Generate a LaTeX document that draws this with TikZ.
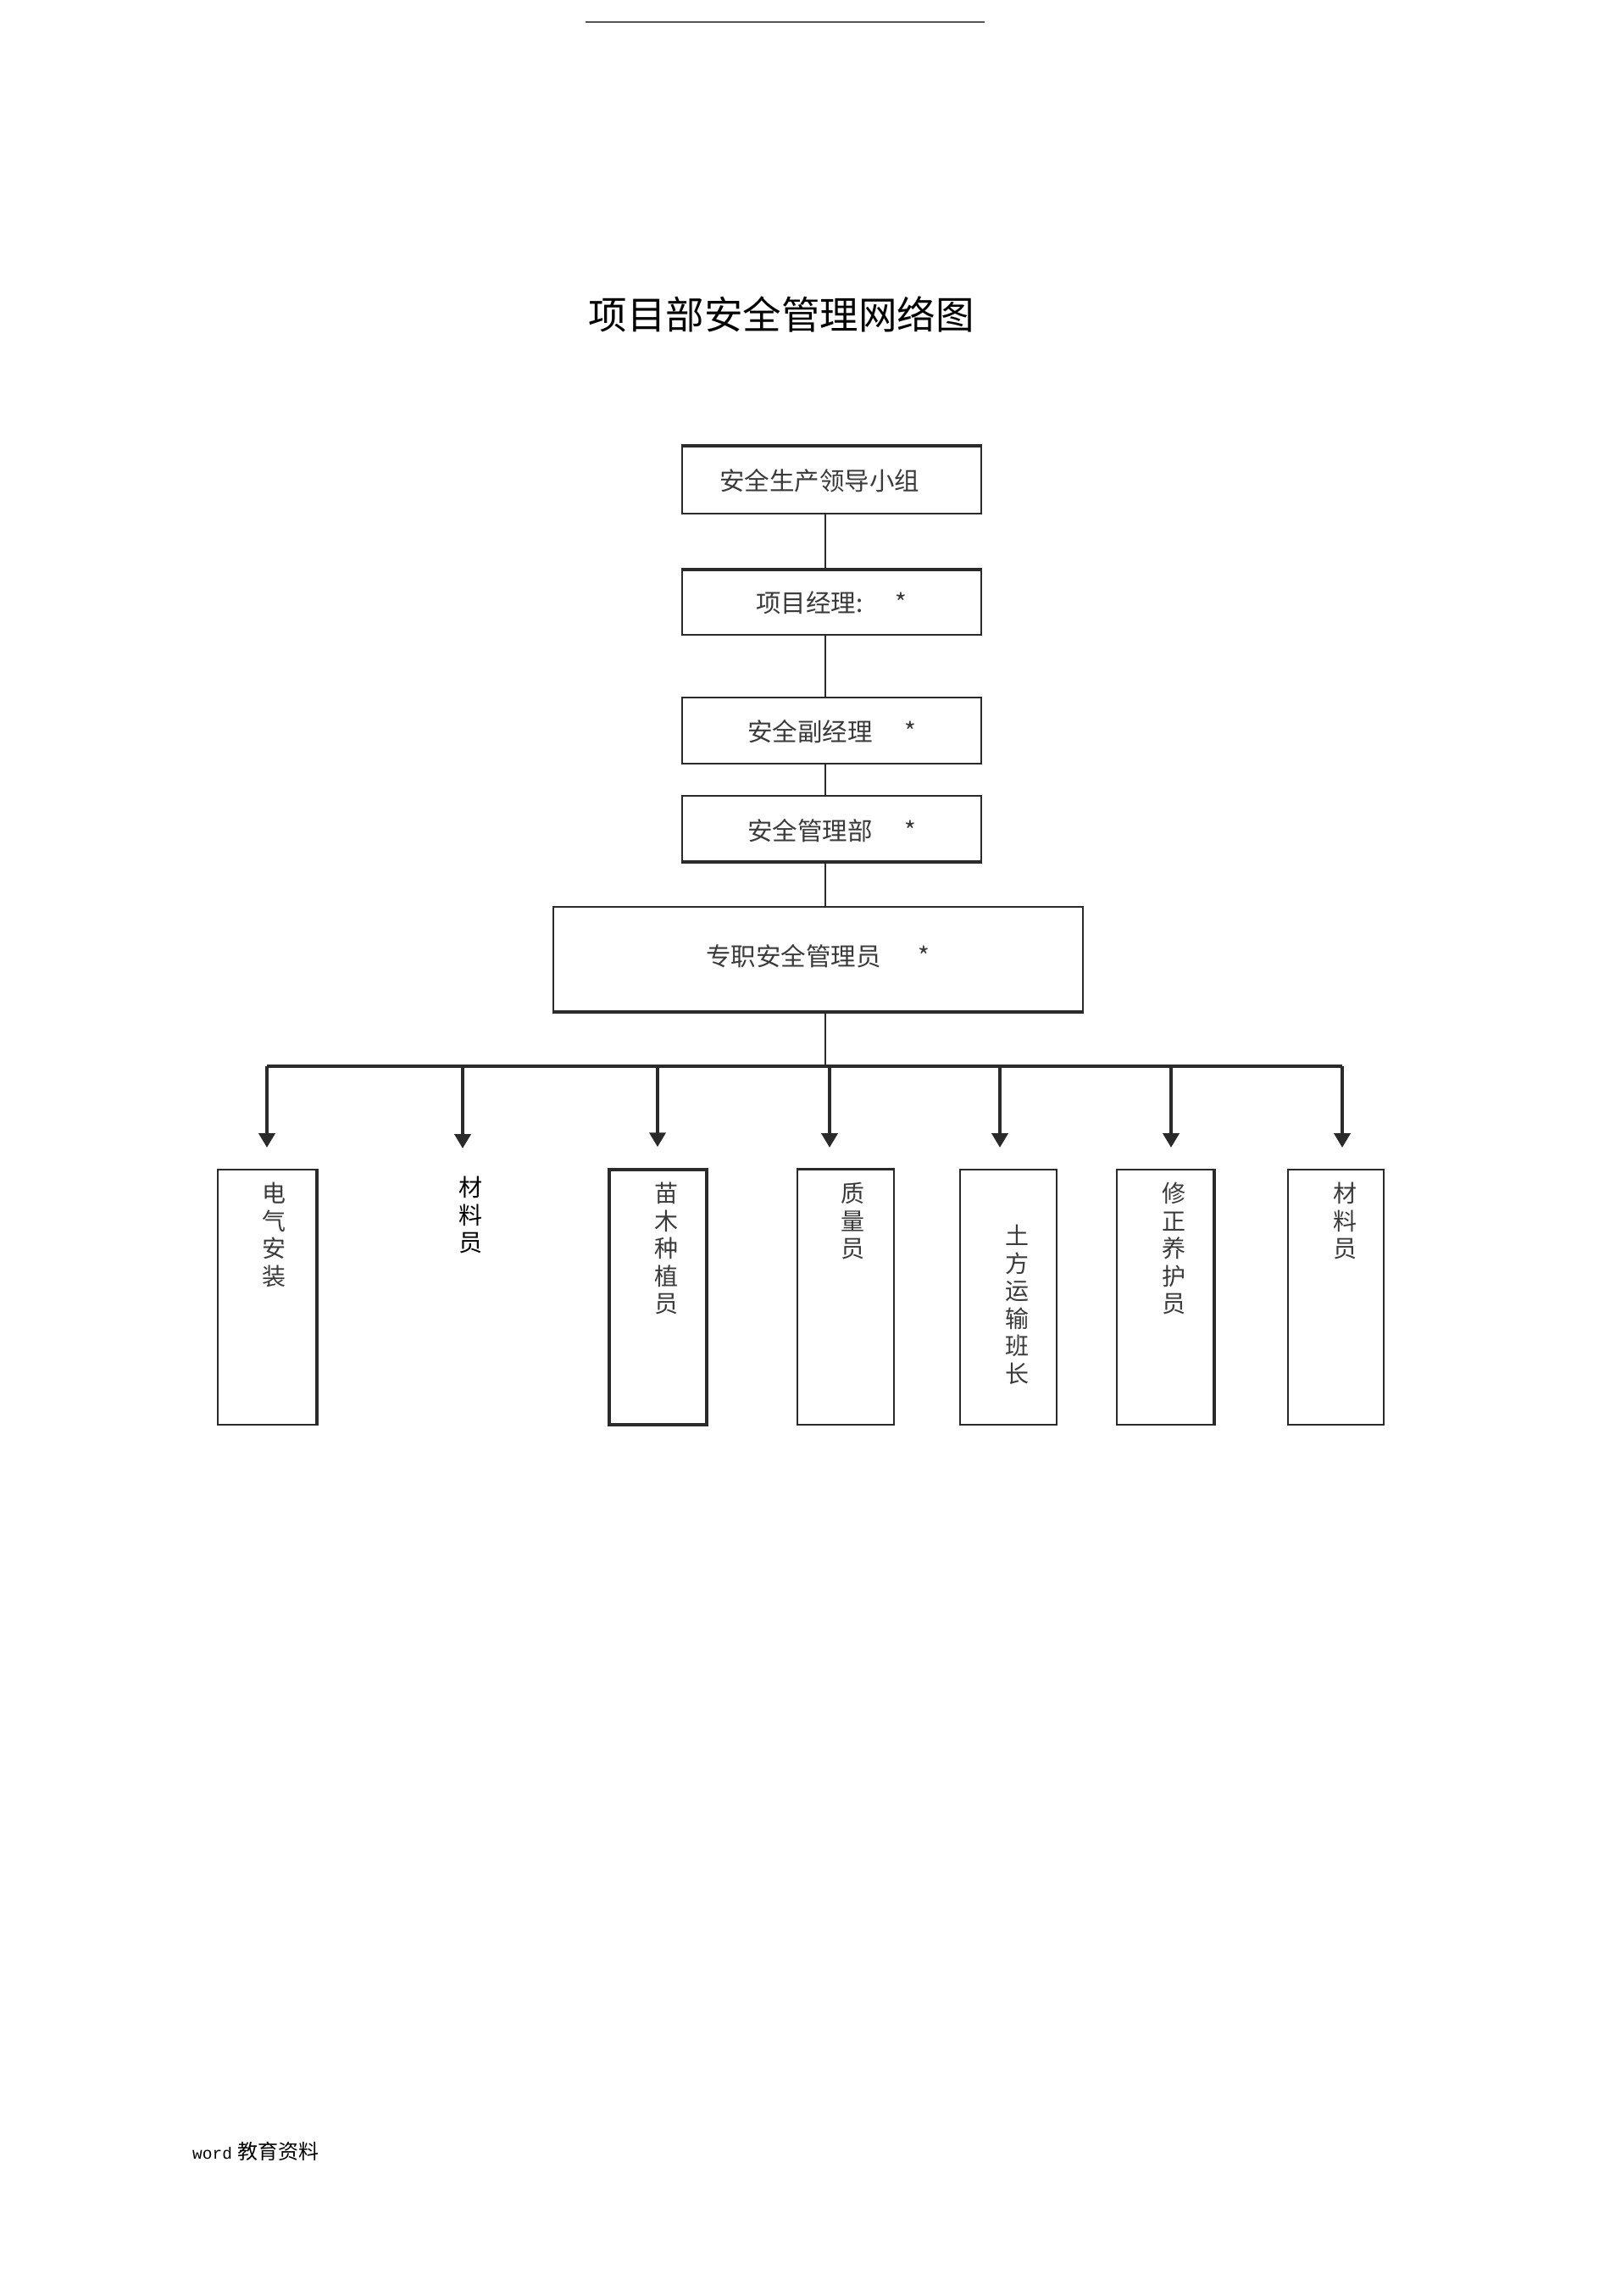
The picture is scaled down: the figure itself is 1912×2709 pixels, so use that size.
\documentclass[tikz,border=0pt]{standalone}
\usepackage{fontspec}
\setmainfont{Noto Sans CJK SC}
\newfontfamily\monofont{Liberation Mono}
\usetikzlibrary{arrows.meta}
\definecolor{linec}{HTML}{2A2A2A}
\definecolor{headc}{HTML}{555555}
\definecolor{txtc}{HTML}{3A3A3A}
\begin{document}
\begin{tikzpicture}[x=1pt,y=-1pt,
  box/.style={draw=linec, line width=2pt, fill=white, inner sep=0pt},
  hlbl/.style={anchor=west, inner sep=0pt, text=txtc, font=\fontsize{29.5}{34}\selectfont},
  vlbl/.style={anchor=north, inner sep=0pt, align=center, text=txtc, font=\fontsize{28}{32.5}\selectfont},
  link/.style={draw=linec, line width=2pt},
  edge/.style={draw=linec, line width=4pt},
  bus/.style={draw=linec, line width=3.5pt},
  arr/.style={draw=linec, line width=4pt, -{Triangle[length=17pt,width=19pt]}}]
\useasboundingbox[fill=white] (0,0) rectangle (1912,2709);

% header rule and title
\coordinate (hl) at (691,25.7);
\coordinate (hr) at (1162,25.7);
\draw[draw=headc, line width=2pt] (hl) -- (hr);
\node[inner sep=0pt, font=\fontsize{45.5}{54}\selectfont] (title) at (922,371) {项目部安全管理网络图};

% upper chain of boxes
\node[box, minimum width=353pt, minimum height=79pt] (b1) at (981.5,566.5) {};
\node[box, minimum width=353pt, minimum height=76pt] (b2) at (981.5,711) {};
\node[box, minimum width=353pt, minimum height=78pt] (b3) at (981.5,862) {};
\node[box, minimum width=353pt, minimum height=77pt] (b4) at (981.5,977.5) {};
\node[box, minimum width=625pt, minimum height=123.5pt] (b5) at (965.5,1131.25) {};

\draw[edge] (b1.north west) -- (b1.north east);
\draw[edge] (b2.north west) -- (b2.north east);
\draw[edge] (b4.south west) -- (b4.south east);
\draw[draw=linec, line width=3pt] (b5.south west) -- (b5.south east);

\node[hlbl] (t1) at (849,567) {安全生产领导小组};
\node[hlbl] (t2) at (892,711) {\makebox[164.5pt][l]{项目经理:}*};
\node[hlbl] (t3) at (882,863) {\makebox[185.5pt][l]{安全副经理}*};
\node[hlbl] (t4) at (882,980) {\makebox[185.5pt][l]{安全管理部}*};
\node[hlbl] (t5) at (833,1128) {\makebox[250.5pt][l]{专职安全管理员}*};

% spine
\coordinate (sp) at (974,0);
\coordinate (busL) at (315,1258);
\coordinate (busR) at (1584,1258);
\draw[link] (b1.south -| sp) -- (b2.north -| sp);
\draw[link] (b2.south -| sp) -- (b3.north -| sp);
\draw[link] (b3.south -| sp) -- (b4.north -| sp);
\draw[link] (b4.south -| sp) -- (b5.north -| sp);
\draw[link] (b5.south -| sp) -- (sp |- busL);
\draw[bus] (busL) -- (busR);

% bottom boxes
\node[box, minimum width=116pt, minimum height=301pt] (c1) at (315,1530.5) {};
\node[box, minimum width=115pt, minimum height=301pt, line width=3.5pt] (c3) at (776.5,1530.5) {};
\node[box, minimum width=114pt, minimum height=301pt] (c4) at (998,1530.5) {};
\node[box, minimum width=114pt, minimum height=301pt] (c5) at (1189.5,1530.5) {};
\node[box, minimum width=114pt, minimum height=301pt] (c6) at (1375,1530.5) {};
\node[box, minimum width=113pt, minimum height=301pt] (c7) at (1576.5,1530.5) {};
\draw[edge] (c1.north east) -- (c1.south east);
\draw[edge] (c6.north east) -- (c6.south east);
\draw[draw=linec, line width=3pt] (c4.north west) -- (c4.north east);

\node[vlbl] (v1) at (323,1395) {电\\气\\安\\装};
\node[vlbl, text=black] (v2) at (555,1388) {材\\料\\员};
\node[vlbl] (v3) at (786,1395) {苗\\木\\种\\植\\员};
\node[vlbl] (v4) at (1006.7,1395) {质\\量\\员};
\node[vlbl] (v5) at (1200.7,1445) {土\\方\\运\\输\\班\\长};
\node[vlbl] (v6) at (1385,1395) {修\\正\\养\\护\\员};
\node[vlbl] (v7) at (1587,1395) {材\\料\\员};

% arrows from bus
\coordinate (j1) at (315,1258);
\coordinate (j2) at (546,1258);
\coordinate (j3) at (776,1258);
\coordinate (j4) at (979,1258);
\coordinate (j5) at (1180,1258);
\coordinate (j6) at (1382,1258);
\coordinate (j7) at (1584,1258);
\coordinate (a2) at (546,1355);
\draw[arr, shorten >=25pt] (j1) -- (j1 |- c1.north);
\draw[arr] (j2) -- (a2);
\draw[arr, shorten >=25pt] (j3) -- (j3 |- c3.north);
\draw[arr, shorten >=25pt] (j4) -- (j4 |- c4.north);
\draw[arr, shorten >=25pt] (j5) -- (j5 |- c5.north);
\draw[arr, shorten >=25pt] (j6) -- (j6 |- c6.north);
\draw[arr, shorten >=25pt] (j7) -- (j7 |- c7.north);

% footer
\node[anchor=west, inner sep=0pt, font=\fontsize{24}{28}\selectfont] (foot) at (227,2538) {{\monofont\fontsize{19.5}{24}\selectfont word}\hspace{6pt}教育资料};
\end{tikzpicture}
\end{document}
